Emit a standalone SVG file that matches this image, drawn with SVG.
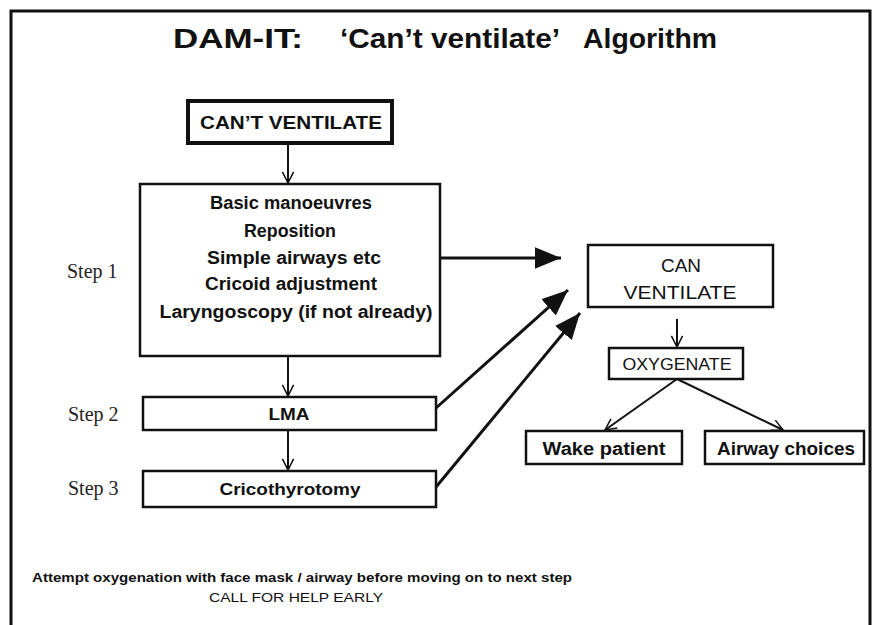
<svg xmlns="http://www.w3.org/2000/svg" width="877" height="625" viewBox="0 0 877 625">
<defs>
<style>
.box{fill:#fff;stroke:#111;stroke-width:2.5}
.thick{stroke-width:4}
.t{font-family:"Comic Sans MS","Liberation Sans",Arial,sans-serif;fill:#111;text-anchor:middle}
.s{text-anchor:start}
.b{font-weight:bold}
.step{font-family:"Liberation Serif","Times New Roman",serif;font-size:20px;fill:#222}
.ln{stroke:#111;stroke-width:2;fill:none}
.lnb{stroke:#111;stroke-width:3;fill:none}
</style>
<marker id="open" viewBox="0 0 20 20" refX="18" refY="10" markerWidth="14" markerHeight="14" markerUnits="userSpaceOnUse" orient="auto">
<path d="M2,2 L18,10 L2,18" fill="none" stroke="#111" stroke-width="2.2"/>
</marker>
<marker id="solid" viewBox="0 0 24 20" refX="24" refY="10" markerWidth="26" markerHeight="22" markerUnits="userSpaceOnUse" orient="auto">
<path d="M0,0 L24,10 L0,20 Z" fill="#111"/>
</marker>
</defs>
<rect width="877" height="625" fill="#fff"/>
<path d="M11,625 V11 H870 V625" fill="none" stroke="#111" stroke-width="3"/>
<g id="title">
<text class="t s b" x="173" y="48" font-size="27" textLength="130" lengthAdjust="spacingAndGlyphs">DAM-IT:</text>
<text class="t s b" x="340" y="48" font-size="27" textLength="220" lengthAdjust="spacingAndGlyphs">‘Can’t ventilate’</text>
<text class="t s b" x="583" y="48" font-size="27" textLength="134" lengthAdjust="spacingAndGlyphs">Algorithm</text>
</g>

<g id="cant-ventilate">
<rect class="box thick" x="188" y="101" width="204" height="42"/>
<text class="t b" x="291" y="129" font-size="19" textLength="182" lengthAdjust="spacingAndGlyphs">CAN’T VENTILATE</text>
</g>

<g id="step1">
<rect class="box" x="140" y="184" width="300" height="172"/>
<text class="t b" x="291" y="209" font-size="18" textLength="162" lengthAdjust="spacingAndGlyphs">Basic manoeuvres</text>
<text class="t b" x="290" y="237" font-size="18" textLength="92" lengthAdjust="spacingAndGlyphs">Reposition</text>
<text class="t b" x="294" y="264" font-size="18" textLength="174" lengthAdjust="spacingAndGlyphs">Simple airways etc</text>
<text class="t b" x="291" y="290" font-size="18" textLength="172" lengthAdjust="spacingAndGlyphs">Cricoid adjustment</text>
<text class="t b" x="296" y="318" font-size="18" textLength="273" lengthAdjust="spacingAndGlyphs">Laryngoscopy (if not already)</text>
<text class="step" x="67" y="278">Step 1</text>
</g>

<g id="lma">
<rect class="box" x="143" y="397" width="293" height="33"/>
<text class="t b" x="289" y="420" font-size="17" textLength="41" lengthAdjust="spacingAndGlyphs">LMA</text>
<text class="step" x="68" y="421">Step 2</text>
</g>

<g id="crico">
<rect class="box" x="143" y="471" width="293" height="36"/>
<text class="t b" x="290" y="495" font-size="17" textLength="141" lengthAdjust="spacingAndGlyphs">Cricothyrotomy</text>
<text class="step" x="68" y="495">Step 3</text>
</g>

<g id="can-ventilate">
<rect class="box" stroke-width="3.5" x="588" y="245" width="185" height="62"/>
<text class="t" x="681" y="272" font-size="18" textLength="40" lengthAdjust="spacingAndGlyphs">CAN</text>
<text class="t" x="680" y="299" font-size="18" textLength="113" lengthAdjust="spacingAndGlyphs">VENTILATE</text>
</g>

<g id="oxygenate">
<rect class="box" x="609" y="348" width="134" height="31"/>
<text class="t" x="677" y="370" font-size="17" textLength="109" lengthAdjust="spacingAndGlyphs">OXYGENATE</text>
</g>

<g id="wake">
<rect class="box" x="526" y="431" width="156" height="33"/>
<text class="t b" x="604" y="455" font-size="18" textLength="123" lengthAdjust="spacingAndGlyphs">Wake patient</text>
</g>

<g id="airway">
<rect class="box" x="705" y="431" width="159" height="33"/>
<text class="t b" x="786" y="455" font-size="18" textLength="138" lengthAdjust="spacingAndGlyphs">Airway choices</text>
</g>

<g id="connectors">
<line class="ln" x1="288" y1="143" x2="288" y2="183" marker-end="url(#open)"/>
<line class="ln" x1="288" y1="356" x2="288" y2="396" marker-end="url(#open)"/>
<line class="ln" x1="288" y1="430" x2="288" y2="470" marker-end="url(#open)"/>
<line class="lnb" x1="440" y1="258" x2="561" y2="258" marker-end="url(#solid)"/>
<line class="lnb" x1="436" y1="408" x2="568" y2="290" marker-end="url(#solid)"/>
<line class="lnb" x1="436" y1="487" x2="580" y2="313" marker-end="url(#solid)"/>
<line class="ln" x1="677" y1="319" x2="677" y2="347" marker-end="url(#open)"/>
<line class="ln" x1="677" y1="379" x2="605" y2="430" marker-end="url(#open)"/>
<line class="ln" x1="677" y1="379" x2="783" y2="430" marker-end="url(#open)"/>
</g>

<g id="notes">
<text class="t b" x="302" y="582" font-size="13" textLength="540" lengthAdjust="spacingAndGlyphs">Attempt oxygenation with face mask / airway before moving on to next step</text>
<text class="t" x="296" y="602" font-size="13" textLength="174" lengthAdjust="spacingAndGlyphs">CALL FOR HELP EARLY</text>
</g>
</svg>
